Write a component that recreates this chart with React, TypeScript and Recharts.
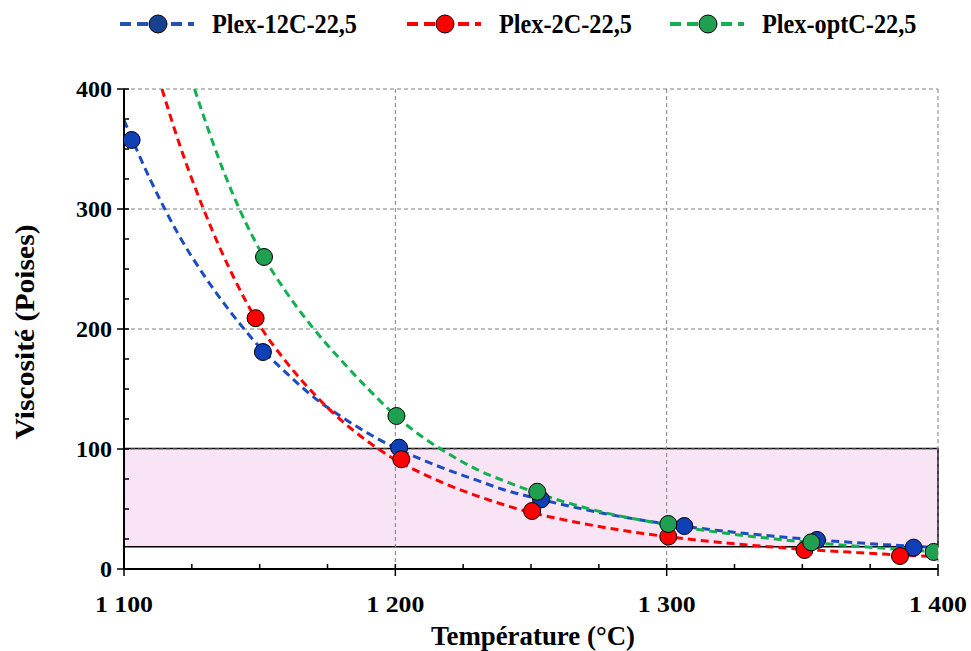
import React from "react";
import {
  ComposedChart,
  Line,
  Scatter,
  XAxis,
  YAxis,
  ReferenceLine,
  ReferenceArea,
} from "recharts";

// fitted curves
const blueCurveT = [1100, 1110, 1120, 1130, 1140, 1150, 1160, 1170, 1180, 1190, 1200, 1210, 1220, 1230, 1240, 1250, 1260, 1270, 1280, 1290, 1300, 1310, 1320, 1330, 1340, 1350, 1360, 1370, 1380, 1390, 1400];
const blueCurveV = [374, 323, 279, 243, 212, 185, 163, 143, 127, 113, 101, 91, 82, 74, 66, 60, 54.5, 49.5, 45, 41, 37.5, 34.5, 31.8, 29.4, 27.2, 25.2, 23.5, 21.9, 20.4, 19, 17.8];

const redCurveT = [1114, 1120, 1130, 1140, 1150, 1160, 1170, 1180, 1190, 1200, 1210, 1220, 1230, 1240, 1250, 1260, 1270, 1280, 1290, 1300, 1310, 1320, 1330, 1340, 1350, 1360, 1370, 1380, 1390, 1400];
const redCurveV = [400, 357, 296, 245, 203, 172, 146, 124, 106, 91, 79.5, 69.5, 61, 53.5, 47, 42, 37.5, 33.5, 30, 27, 24.4, 22.1, 20, 18.2, 16.5, 15, 13.7, 12.4, 11.3, 10.3];

const greenCurveT = [1126, 1130, 1140, 1150, 1160, 1170, 1180, 1190, 1200, 1210, 1220, 1230, 1240, 1250, 1260, 1270, 1280, 1290, 1300, 1310, 1320, 1330, 1340, 1350, 1360, 1370, 1380, 1390, 1400];
const greenCurveV = [400, 373, 313, 266, 230, 200, 174, 150, 128, 110, 95.5, 83, 73.5, 65, 57.5, 51, 45.5, 41, 37, 33.5, 30.3, 27.5, 25, 22.8, 20.8, 19, 17.3, 15.8, 14.4];

// measured points
const bluePtsT = [1102.8, 1151.2, 1201.4, 1253.7, 1306.5, 1355.4, 1391];
const bluePtsV = [357.5, 180.8, 101.1, 58, 35.8, 24.2, 17.8];
const redPtsT = [1148.5, 1202.2, 1250.4, 1300.6, 1350.8, 1386];
const redPtsV = [209, 91.4, 48.3, 27, 15.8, 10.8];
const greenPtsT = [1151.6, 1200.4, 1252.3, 1300.6, 1353.3, 1398.4];
const greenPtsV = [260, 127.5, 64.4, 37.5, 22.2, 14.2];

const seriesNames = ["Plex-12C-22,5", "Plex-2C-22,5", "Plex-optC-22,5"];

const xTicks = [1100, 1125, 1150, 1175, 1200, 1225, 1250, 1275, 1300, 1325, 1350, 1375, 1400];
const yTicks = [0, 25, 50, 75, 100, 125, 150, 175, 200, 225, 250, 275, 300, 325, 350, 375, 400];
const xGrid = [1200, 1300, 1400];
const yGrid = [100, 200, 300, 400];

const zoneLow = 18.5;
const zoneHigh = 100.5;

const zip = (t: number[], v: number[]) => t.map((x, i) => ({ t: x, v: v[i] }));

const FONT = "'Liberation Serif', 'Times New Roman', serif";
const BLUE = "#1a4cc2";
const BLUE_DOT = "#1040b8";
const RED = "#ff0000";
const GREEN = "#12b050";
const GREEN_DOT = "#1ea050";

const fmtThousands = (n: number) => {
  const s = String(n);
  return s.length > 3 ? s.slice(0, s.length - 3) + "\u00a0" + s.slice(-3) : s;
};

const YTick = (props: any) => {
  const { x, y, payload } = props;
  const ax = x + 12;
  const major = payload.value % 100 === 0;
  return (
    <g>
      <line x1={major ? ax - 7 : ax} x2={ax + 5} y1={y} y2={y} stroke="#000" strokeWidth={1.5} />
      {major && (
        <text x={ax - 12} y={y} textAnchor="end" dominantBaseline="central" fontFamily={FONT} fontWeight="bold" fontSize={24} fill="#000">
          {payload.value}
        </text>
      )}
    </g>
  );
};

const XTick = (props: any) => {
  const { x, y, payload } = props;
  const ay = y - 12;
  const major = payload.value % 100 === 0;
  return (
    <g>
      <line x1={x} x2={x} y1={ay - 5} y2={major ? ay + 7 : ay} stroke="#000" strokeWidth={1.5} />
      {major && (
        <text x={x} y={ay + 35} textAnchor="middle" dominantBaseline="central" fontFamily={FONT} fontWeight="bold" fontSize={24} fill="#000" textLength={58} lengthAdjust="spacingAndGlyphs">
          {fmtThousands(payload.value)}
        </text>
      )}
    </g>
  );
};

const dot = (fill: string) => (p: any) => (
  <circle cx={p.cx} cy={p.cy} r={8.5} fill={fill} stroke="#000" strokeWidth={1} />
);

const legendItems = [
  { name: seriesNames[0], line: "#2452a8", dot: "#17418f", x: 120 },
  { name: seriesNames[1], line: RED, dot: RED, x: 407 },
  { name: seriesNames[2], line: GREEN, dot: GREEN_DOT, x: 670 },
];

export default function App() {
  return (
    <div style={{ position: "absolute", left: 0, top: 0, width: 971, height: 651, background: "#fff" }}>
      <ComposedChart width={971} height={651} margin={{ top: 89, right: 33, bottom: 0, left: 0 }}>
        <XAxis
          type="number"
          dataKey="t"
          domain={[1100, 1400]}
          ticks={xTicks}
          tick={<XTick />}
          tickLine={false}
          tickSize={0}
          tickMargin={12}
          axisLine={{ stroke: "#000", strokeWidth: 2 }}
          height={82}
          allowDataOverflow
          interval={0}
        />
        <YAxis
          type="number"
          dataKey="v"
          domain={[0, 400]}
          ticks={yTicks}
          tick={<YTick />}
          tickLine={false}
          tickSize={0}
          tickMargin={12}
          axisLine={{ stroke: "#000", strokeWidth: 2 }}
          width={124}
          allowDataOverflow
          interval={0}
        />
        {yGrid.map((v) => (
          <ReferenceLine key={"h" + v} y={v} stroke="#808080" strokeDasharray="4 3" strokeWidth={1} />
        ))}
        <ReferenceArea x1={1100} x2={1400} y1={zoneLow} y2={zoneHigh} fill="#f8e4f5" fillOpacity={1} stroke="#000" strokeWidth={1.5} />
        {xGrid.map((t) => (
          <ReferenceLine key={"v" + t} x={t} stroke="#808080" strokeDasharray="4 3" strokeWidth={1} />
        ))}
        <Line data={zip(blueCurveT, blueCurveV)} dataKey="v" type="monotone" stroke={BLUE} strokeWidth={3} strokeDasharray="8 5" dot={false} isAnimationActive={false} />
        <Line data={zip(redCurveT, redCurveV)} dataKey="v" type="monotone" stroke={RED} strokeWidth={3} strokeDasharray="8 5" dot={false} isAnimationActive={false} />
        <Line data={zip(greenCurveT, greenCurveV)} dataKey="v" type="monotone" stroke={GREEN} strokeWidth={3} strokeDasharray="8 5" dot={false} isAnimationActive={false} />
        <Scatter data={zip(bluePtsT, bluePtsV)} dataKey="v" shape={dot(BLUE_DOT)} isAnimationActive={false} />
        <Scatter data={zip(redPtsT, redPtsV)} dataKey="v" shape={dot(RED)} isAnimationActive={false} />
        <Scatter data={zip(greenPtsT, greenPtsV)} dataKey="v" shape={dot(GREEN_DOT)} isAnimationActive={false} />
      </ComposedChart>
      {/* legend and axis titles */}
      <svg width={971} height={651} style={{ position: "absolute", left: 0, top: 0, pointerEvents: "none" }}>
        {legendItems.map((it) => (
          <g key={it.name}>
            <line x1={it.x} x2={it.x + 74} y1={24} y2={24} stroke={it.line} strokeWidth={4} strokeDasharray="11 6" />
            <circle cx={it.x + 38} cy={24} r={9} fill={it.dot} stroke="#000" strokeWidth={1} />
            <text transform={`translate(${it.x + 92},33) scale(0.9,1)`} fontFamily={FONT} fontWeight="bold" fontSize={27}>
              {it.name}
            </text>
          </g>
        ))}
        <text x={533} y={645} textAnchor="middle" fontFamily={FONT} fontWeight="bold" fontSize={27} textLength={204} lengthAdjust="spacingAndGlyphs">
          Température (°C)
        </text>
        <text transform="translate(34,332) rotate(-90)" textAnchor="middle" fontFamily={FONT} fontWeight="bold" fontSize={27} textLength={215} lengthAdjust="spacingAndGlyphs">
          Viscosité (Poises)
        </text>
      </svg>
    </div>
  );
}
